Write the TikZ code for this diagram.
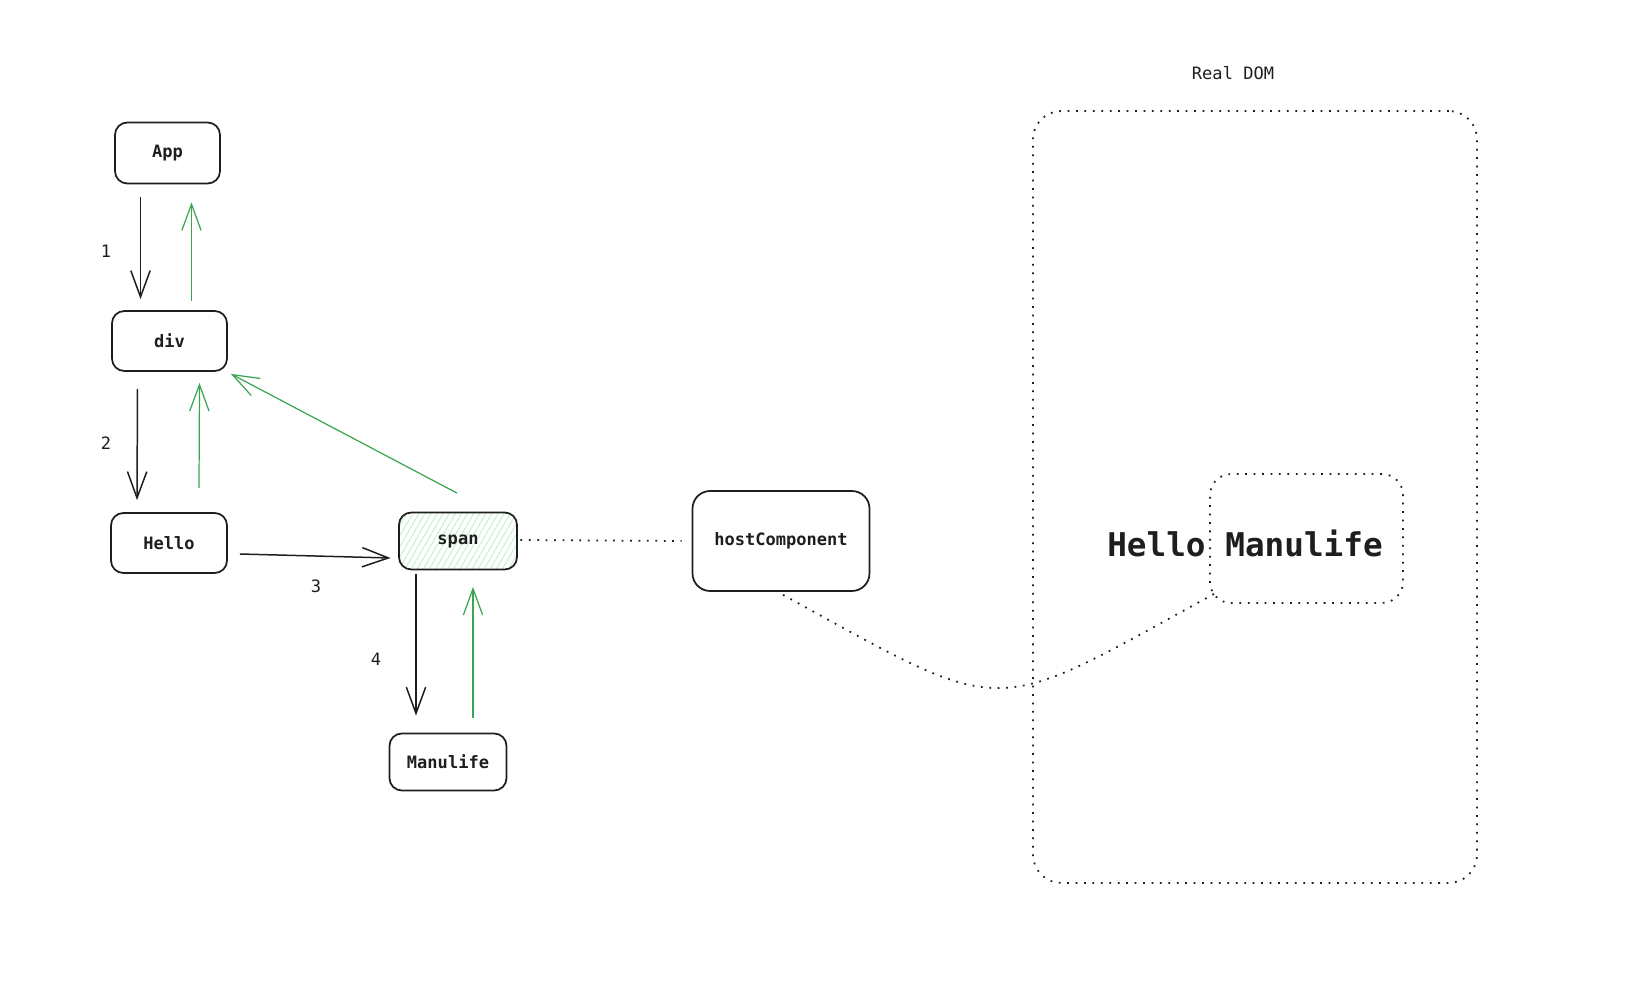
\documentclass[tikz,border=0pt]{standalone}
\usepackage{fontspec}
\setmainfont{DejaVu Sans Mono}
\usepackage{tikz}
\usetikzlibrary{arrows.meta,patterns.meta}

\definecolor{ink}{HTML}{1E1E1E}
\definecolor{backgreen}{HTML}{3BA551}
\definecolor{hatchgreen}{HTML}{BDEFC5}

\begin{document}
\begin{tikzpicture}[
    x=0.02cm, y=-0.02cm,
    component/.style={rectangle, draw=ink, line width=1pt, rounded corners=7pt, align=center, text=ink, font=\fontsize{9.7}{11}\selectfont\bfseries},
    arrow/.style={-{Straight Barb[length=15pt,width=11pt]}, draw=ink, line width=0.85pt},
    backarrow/.style={-{Straight Barb[length=15pt,width=11pt]}, draw=backgreen, line width=0.7pt},
    dotline/.style={draw=ink, line width=1pt, dash pattern=on 1pt off 3.8pt},
    steplabel/.style={text=ink, font=\fontsize{9.7}{11}\selectfont}
]
    \useasboundingbox (0,0) rectangle (1640,986);

    % fiber tree
    \node[component, minimum width=2.1cm, minimum height=1.22cm] (app) at (167.5,153) {App};
    \node[component, minimum width=2.3cm, minimum height=1.2cm] (div) at (169.5,341) {div};
    \node[component, minimum width=2.32cm, minimum height=1.2cm] (hello) at (169,543) {Hello};
    \node[component, minimum width=2.36cm, minimum height=1.14cm,
          pattern={Lines[angle=60,distance=3pt,line width=0.5pt]}, pattern color=hatchgreen] (span) at (458,541) {span};
    \node[component, minimum width=2.34cm, minimum height=1.14cm] (manulife) at (448,762) {Manulife};
    \node[component, minimum width=3.54cm, minimum height=2cm, rounded corners=10pt] (host) at (781,541) {hostComponent};

    % real DOM
    \node[dotline, rectangle, minimum width=8.88cm, minimum height=15.44cm, rounded corners=16pt] (realdom) at (1255,497) {};
    \node[steplabel] (domtitle) at (1233,73) {Real DOM};
    \node[dotline, rectangle, minimum width=3.86cm, minimum height=2.58cm, rounded corners=12pt] (domtext) at (1306.5,538.5) {};
    \node[text=ink, font=\fontsize{18.6}{22}\selectfont\bfseries] (rendered) at (1245,543) {Hello Manulife};

    % step numbers
    \node[steplabel] (s1) at (106,251) {1};
    \node[steplabel] (s2) at (106,443) {2};
    \node[steplabel] (s3) at (316,586) {3};
    \node[steplabel] (s4) at (376,659) {4};

    % going down
    \draw[arrow] ([shift={(-27,13)}]app.south) -- ([shift={(-29,-11)}]div.north);
    \draw[arrow] ([shift={(-32,17)}]div.south) -- ([shift={(-32,-12)}]hello.north);
    \draw[arrow] ([shift={(12,11)}]hello.east) -- ([shift={(-8,17)}]span.west);
    \draw[arrow] ([shift={(-42,4)}]span.south) -- ([shift={(-32,-17)}]manulife.north);

    % going back up
    \draw[backarrow] ([shift={(22,-9)}]div.north) -- ([shift={(24,18)}]app.south);
    \draw[backarrow] ([shift={(30,-24)}]hello.north) -- ([shift={(30,11)}]div.south);
    \draw[backarrow] ([shift={(25,-15)}]manulife.north) -- ([shift={(15,17)}]span.south);
    \draw[backarrow] ([shift={(-1,-19)}]span.north) -- ([shift={(3,2)}]div.south east);

    % links to the DOM
    \draw[dotline] ([shift={(3,-1)}]span.east) -- ([shift={(-10,0)}]host.west);
    \draw[dotline] ([shift={(2,3)}]host.south) .. controls +(228,125) and +(-228,125) .. ([shift={(5,-10)}]domtext.south west);
\end{tikzpicture}
\end{document}
